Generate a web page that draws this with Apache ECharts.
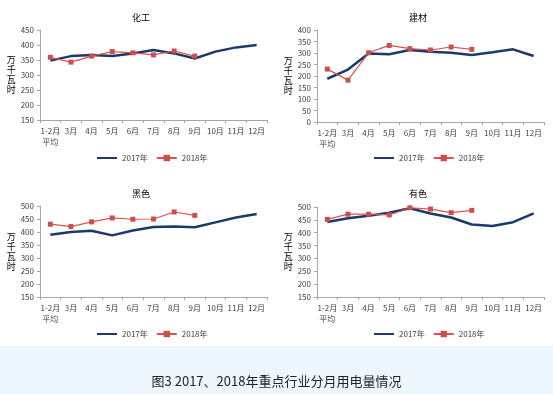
<!DOCTYPE html>
<html><head><meta charset="utf-8">
<script src="https://cdn.jsdelivr.net/npm/echarts@6/dist/echarts.min.js"></script>
<style>html,body{margin:0;padding:0;background:#fff;}#c{width:553px;height:394px;}</style>
</head><body><div id="c"></div>
<script>
const categories = ['1-2月\n平均','3月','4月','5月','6月','7月','8月','9月','10月','11月','12月'];
const titles = ['化工','建材','黑色','有色'];
const seriesNames = ['2017年','2018年'];
const chem2017 = [348,363,367,363,372,383,372,355,378,392,400];
const chem2018 = [359,343,363,378,374,367,380,363];
const build2017 = [188,228,298,295,313,305,301,291,303,316,287];
const build2018 = [230,182,301,333,319,313,326,316];
const ferrous2017 = [389,400,405,387,406,419,421,418,437,456,469];
const ferrous2018 = [430,421,439,454,449,450,477,464];
const nonferrous2017 = [442,456,466,478,495,475,459,432,426,441,475];
const nonferrous2018 = [452,472,472,469,497,492,478,487];
const yMin = [150,0,150,150];
const yMax = [450,400,500,500];

const chart = echarts.init(document.getElementById('c'));
const panels = [
  {left:40, top:30, h:90, tx:136, ty:8, ly:149},
  {left:317, top:30, h:92, tx:413, ty:8, ly:149},
  {left:40, top:206, h:91, tx:136, ty:184, ly:325},
  {left:317, top:207, h:90, tx:413, ty:184, ly:325}
];
const data17 = [chem2017, build2017, ferrous2017, nonferrous2017];
const data18 = [chem2018, build2018, ferrous2018, nonferrous2018];
const W = 227;
const lab = {color:'#404040', fontSize:8, fontFamily:'Noto Sans CJK SC'};
const option = {
  animation:false,
  title: panels.map((p,i)=>({text:titles[i], left:p.tx, top:p.ty, textAlign:'center',
    textStyle:{fontSize:9, fontWeight:'normal', color:'#000', fontFamily:'Noto Sans CJK SC'}})),
  legend: panels.map((p,i)=>({left:p.tx - 45, top:p.ly, itemWidth:20, itemHeight:8, itemGap:8,
    textStyle:{fontSize:8, color:'#404040', fontFamily:'Noto Sans CJK SC'},
    data:[{name:seriesNames[0], itemStyle:{opacity:0}}, {name:seriesNames[1]}]})),
  grid: panels.map(p=>({left:p.left, top:p.top, width:W, height:p.h})),
  xAxis: panels.map((p,i)=>({type:'category', gridIndex:i, data:categories, boundaryGap:true,
    axisLine:{lineStyle:{color:'#a6a6a6'}}, axisTick:{show:true, alignWithLabel:false, length:3, lineStyle:{color:'#a6a6a6'}},
    axisLabel:Object.assign({interval:0, margin:5, lineHeight:11}, lab)})),
  yAxis: panels.map((p,i)=>({type:'value', gridIndex:i, min:yMin[i], max:yMax[i], interval:50,
    name:'万\n千\n瓦\n时', nameLocation:'middle', nameRotate:0, nameGap:24,
    nameTextStyle:{fontSize:9, color:'#000', lineHeight:10, fontFamily:'Noto Sans CJK SC'},
    axisLine:{show:true, lineStyle:{color:'#a6a6a6'}}, axisTick:{show:true, length:3, lineStyle:{color:'#a6a6a6'}},
    splitLine:{show:false}, axisLabel:Object.assign({margin:6}, lab)})),
  series: [],
  graphic: [
    {type:'rect', shape:{x:0, y:346, width:553, height:48}, style:{fill:'#eef6fe'}, z:-10},
    {type:'text', left:'center', top:375, style:{text:'图3 2017、2018年重点行业分月用电量情况', fontSize:13, fill:'#222', fontFamily:'Noto Sans CJK SC'}}
  ]
};
for (let i=0;i<4;i++){
  option.series.push({name:seriesNames[0], type:'line', xAxisIndex:i, yAxisIndex:i, data:data17[i],
    showSymbol:false, symbol:'none', lineStyle:{color:'#1b3a6b', width:2.5}, itemStyle:{color:'#1b3a6b'}});
  option.series.push({name:seriesNames[1], type:'line', xAxisIndex:i, yAxisIndex:i, data:data18[i],
    symbol:'rect', symbolSize:5, lineStyle:{color:'#d9534f', width:1.2}, itemStyle:{color:'#c9504b'}});
}
chart.setOption(option);
</script></body></html>
